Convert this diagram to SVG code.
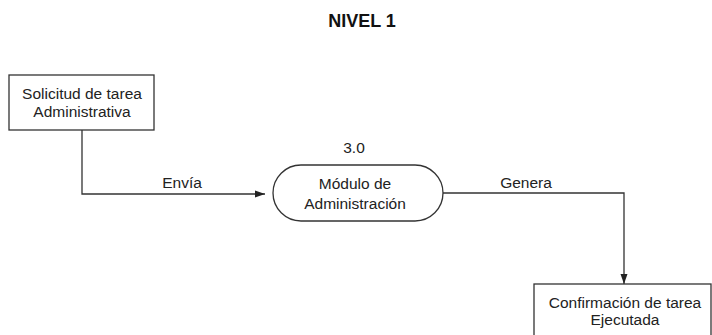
<svg xmlns="http://www.w3.org/2000/svg" width="712" height="335" viewBox="0 0 712 335">
<style>
  .t{font-family:"Liberation Sans",Arial,sans-serif;font-size:15.5px;fill:#222;text-anchor:middle}
  .title{font-family:"Liberation Sans",Arial,sans-serif;font-size:18px;font-weight:bold;fill:#111;text-anchor:middle}
  .box{fill:#fff;stroke:#333;stroke-width:1.3}
  .line{fill:none;stroke:#333;stroke-width:1.3}
</style>
<defs>
  <marker id="arr" viewBox="0 0 10 10" refX="10" refY="5" markerWidth="10" markerHeight="10" markerUnits="userSpaceOnUse" orient="auto">
    <path d="M0,1.5 L10,5 L0,8.5 Z" fill="#222"/>
  </marker>
</defs>
<rect width="712" height="335" fill="#fff"/>
<text class="title" x="362" y="27">NIVEL 1</text>
<g id="connectors">
  <polyline class="line" points="82,130 82,194 265,194" marker-end="url(#arr)"/>
  <polyline class="line" points="443,193 624,193 624,284" marker-end="url(#arr)"/>
  <text class="t" x="182" y="188">Envía</text>
  <text class="t" x="526" y="188">Genera</text>
</g>
<g id="n1">
  <rect class="box" x="9" y="75" width="145" height="55"/>
  <text class="t" x="82" y="99">Solicitud de tarea</text>
  <text class="t" x="82" y="117">Administrativa</text>
</g>
<g id="n2">
  <text class="t" x="354" y="153">3.0</text>
  <rect class="box" x="273" y="165" width="170" height="56" rx="28" ry="28"/>
  <text class="t" x="355" y="189">Módulo de</text>
  <text class="t" x="355" y="209">Administración</text>
</g>
<g id="n3">
  <rect class="box" x="534" y="284" width="177" height="70"/>
  <text class="t" x="625" y="308">Confirmación de tarea</text>
  <text class="t" x="625" y="325">Ejecutada</text>
</g>
</svg>
